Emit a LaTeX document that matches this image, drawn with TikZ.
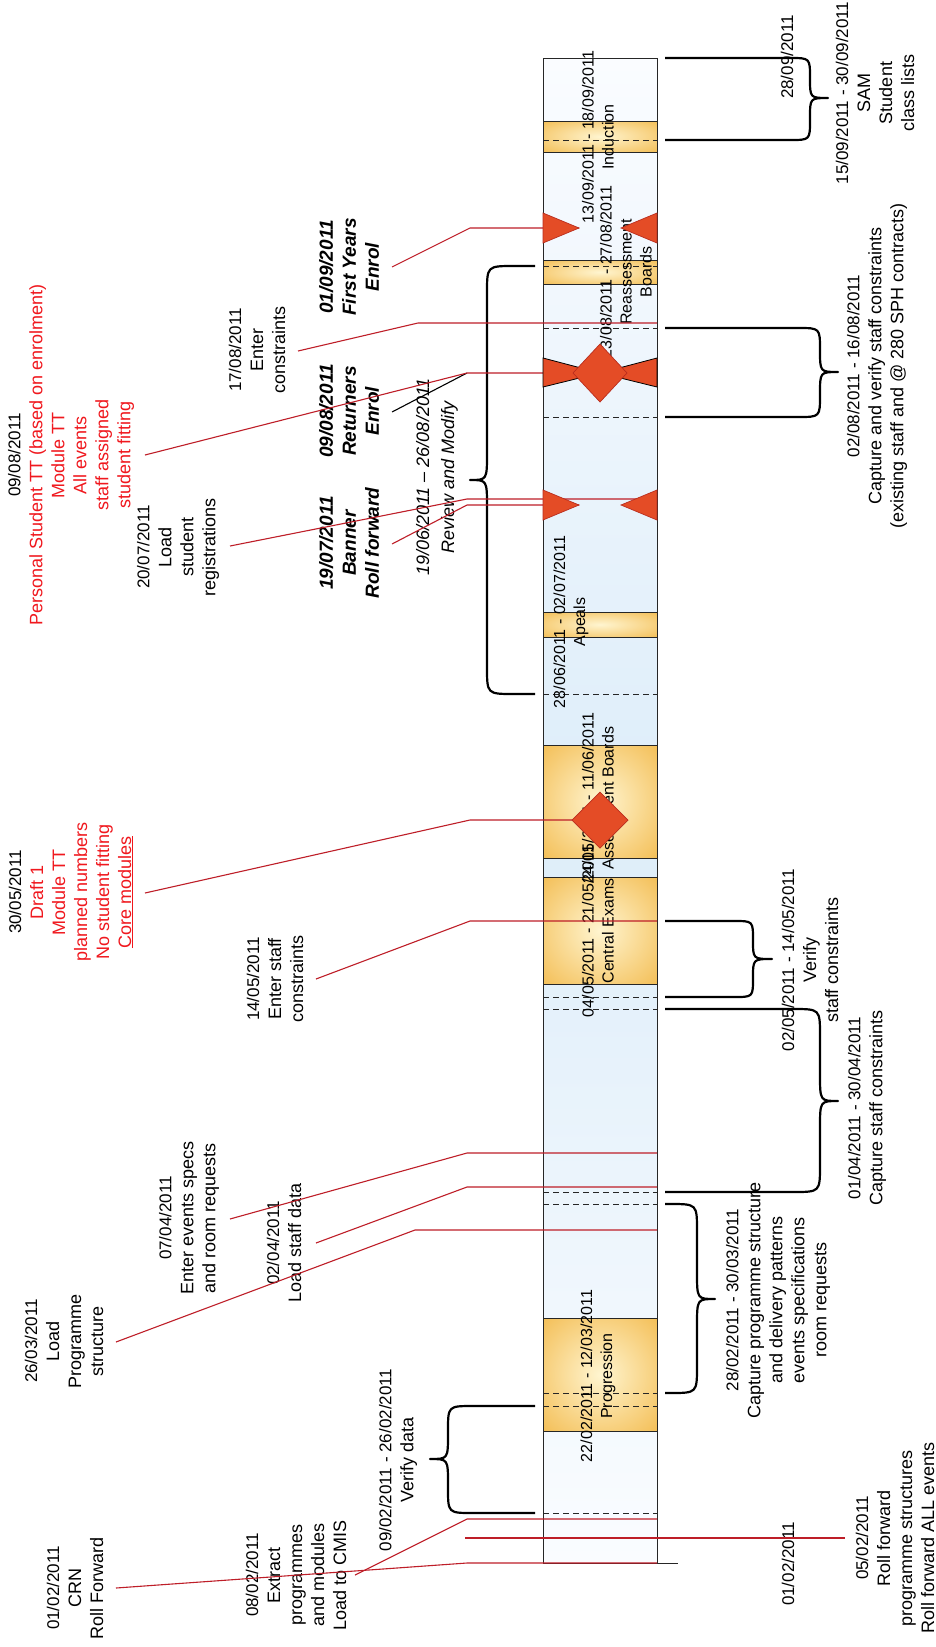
\documentclass[tikz,border=0pt]{standalone}
\usepackage{fontspec}
\setmainfont{Liberation Sans}
\definecolor{lead}{RGB}{190,30,40}
\definecolor{tred}{RGB}{240,24,30}
\definecolor{markfill}{RGB}{228,76,38}
\definecolor{markedge}{RGB}{185,45,30}
\definecolor{orangeout}{RGB}{242,184,72}
\definecolor{orangein}{RGB}{255,245,208}
\definecolor{barblue}{RGB}{221,237,249}
\definecolor{barlight}{RGB}{250,252,255}
\pgfdeclareradialshading{orangeglow}{\pgfpoint{0bp}{0bp}}{color(0bp)=(orangein); color(40bp)=(orangeout); color(60bp)=(orangeout)}
\newcommand{\dt}[1]{{\fontsize{17}{22}\selectfont #1}}
% #1 arm x, #2 spine x, #3 tip x, #4 top y, #5 bottom y, #6 mid y, #7 radius, #8 direction
\newcommand{\mybrace}[8]{%
  \draw[bracestyle] (#1,#4) -- ({#2-#8*#7},#4) .. controls (#2,#4) .. (#2,{#4+#7})
    -- (#2,{#6-#7}) .. controls (#2,#6) .. (#3,#6) .. controls (#2,#6) .. (#2,{#6+#7})
    -- (#2,{#5-#7}) .. controls (#2,#5) .. ({#2-#8*#7},#5) -- (#1,#5);}
\tikzset{
 lbl/.style={rotate=90,align=center,inner sep=0pt,font=\fontsize{18}{22}\selectfont},
 barlbl/.style={rotate=90,align=center,inner sep=0pt,font=\fontsize{16}{20}\selectfont},
 bilbl/.style={rotate=90,align=center,inner sep=0pt,font=\fontsize{19}{23}\selectfont\bfseries\itshape},
 ilbl/.style={rotate=90,align=center,inner sep=0pt,font=\fontsize{18}{25}\selectfont\itshape},
 leader/.style={draw=lead,line width=1.1pt},
 blackleader/.style={draw=black,line width=1.1pt},
 bracestyle/.style={draw=black,line width=2.2pt,line join=round},
 datedash/.style={draw=black!85,line width=1pt,dash pattern=on 6pt off 4pt},
 orangebox/.style={shading=orangeglow,draw=black!85,line width=1pt},
 markstyle/.style={fill=markfill,draw=markedge,line width=0.7pt},
 markblack/.style={fill=markfill,draw=black,line width=0.8pt},
}
\begin{document}
\begin{tikzpicture}[x=1pt,y=-1pt]
\useasboundingbox (0,0) rectangle (936,1647);
\fill[white] (0,0) rectangle (936,1647);

% ---------- timeline bar ----------
\shade[top color=barlight,bottom color=barlight,middle color=barblue] (543,58) rectangle (657,1563);
\shadedraw[orangebox] (543,121) rectangle (657,152);
\shadedraw[orangebox] (543,260) rectangle (657,284);
\shadedraw[orangebox] (543,612) rectangle (657,637);
\shadedraw[orangebox] (543,745) rectangle (657,858);
\shadedraw[orangebox] (543,877) rectangle (657,984);
\shadedraw[orangebox] (543,1318) rectangle (657,1431);

\foreach \yy in {140,266,328,417,694,997,1009,1192,1204,1393,1406,1513}
  \draw[datedash] (543,\yy) -- (657,\yy);

\draw[black!85,line width=1pt] (543,58) rectangle (657,1563);
\draw[black!85,line width=1pt] (657,1563) -- (678,1563);

% ---------- labels inside the bar ----------
\node[barlbl] (induct) at (598,137) {13/09/2011 - 18/09/2011\\Induction};
\node[barlbl] (reass) at (626,272) {23/08/2011 - 27/08/2011\\Reassessment\\Boards};
\node[barlbl] (apeals) at (571,622) {28/06/2011 - 02/07/2011\\Apeals};
\node[barlbl] (assess) at (598,798) {24/05/2011 - 11/06/2011\\Assessment Boards};
\node[barlbl] (exams) at (598,931) {04/05/2011 - 21/05/2011\\Central Exams};
\node[barlbl] (prog) at (598,1376) {22/02/2011 - 12/03/2011\\Progression};

% ---------- labels left ----------
\node[lbl] (crn) at (75,1588) {\dt{01/02/2011}\\CRN\\Roll Forward};
\node[lbl] (extract) at (296,1575) {\dt{08/02/2011}\\Extract\\programmes\\and modules\\Load to CMIS};
\node[lbl] (verifydata) at (398,1460) {\dt{09/02/2011 - 26/02/2011}\\Verify data};
\node[lbl] (loadprog) at (64,1341) {\dt{26/03/2011}\\Load\\Programme\\structure};
\node[lbl] (events) at (189,1218) {\dt{07/04/2011}\\Enter events specs\\and room requests};
\node[lbl] (staffdata) at (284,1243) {\dt{02/04/2011}\\Load staff data};
\node[lbl] (staffcons) at (275,979) {\dt{14/05/2011}\\Enter staff\\constraints};
\node[lbl,text=tred] (draft) at (71,892) {{\color{black}\dt{30/05/2011}}\\Draft 1\\Module TT\\planned numbers\\No student fitting\\\underline{Core modules}};
\node[lbl] (regs) at (178,547) {\dt{20/07/2011}\\Load\\student\\registrations};
\node[lbl,text=tred] (pstt) at (71,455) {{\color{black}\dt{09/08/2011}}\\Personal Student TT (based on enrolment)\\Module TT\\All events\\staff assigned\\student fitting};
\node[lbl] (enter) at (257,350) {\dt{17/08/2011}\\Enter\\constraints};
\node[bilbl] (first) at (349,267) {01/09/2011\\First Years\\Enrol};
\node[bilbl] (ret) at (349,411) {09/08/2011\\Returners\\Enrol};
\node[bilbl] (banner) at (349,543) {19/07/2011\\Banner\\Roll forward};
\node[ilbl] (review) at (437,477) {19/06/2011 -- 26/08/2011\\Review and Modify};

% ---------- labels right ----------
\node[lbl] (d2809) at (787,57) {\dt{28/09/2011}};
\node[lbl] (sam) at (875,93) {\dt{15/09/2011 - 30/09/2011}\\SAM\\Student\\class lists};
\node[lbl] (capver) at (877,366) {\dt{02/08/2011 - 16/08/2011}\\Capture and verify staff constraints\\(existing staff and @ 280 SPH contracts)};
\node[lbl] (verst) at (810,960) {\dt{02/05/2011 - 14/05/2011}\\Verify\\staff constraints};
\node[lbl] (capst) at (867,1108) {\dt{01/04/2011 - 30/04/2011}\\Capture staff constraints};
\node[lbl] (capprog) at (778,1300) {\dt{28/02/2011 - 30/03/2011}\\Capture programme structure\\and delivery patterns\\events specifications\\room requests};
\node[lbl] (d0102) at (788,1564) {\dt{01/02/2011}};
\node[lbl] (rollfwd) at (895,1538) {\dt{05/02/2011}\\Roll forward\\programme structures\\Roll forward ALL events};

% ---------- braces ----------
\mybrace{665}{810}{828}{58}{140}{98}{20}{1}
\mybrace{665}{820}{838}{328}{417}{372}{22}{1}
\mybrace{665}{753}{772}{921}{997}{959}{19}{1}
\mybrace{665}{820}{838}{1009}{1192}{1101}{27}{1}
\mybrace{665}{697}{715}{1204}{1393}{1299}{27}{1}
\mybrace{535}{487}{470}{266}{694}{480}{27}{-1}
\mybrace{535}{448}{430}{1406}{1513}{1459}{25}{-1}

% ---------- leader lines ----------
\coordinate (crnA) at (116,1588); \coordinate (crnB) at (467,1563); \coordinate (crnC) at (657,1563);
\coordinate (extA) at (355,1575); \coordinate (extB) at (467,1519); \coordinate (extC) at (657,1519);
\coordinate (rfA) at (465,1538); \coordinate (rfB) at (845,1538);
\coordinate (lpA) at (116,1342); \coordinate (lpB) at (415,1230); \coordinate (lpC) at (657,1230);
\coordinate (sdA) at (316,1243); \coordinate (sdB) at (467,1187); \coordinate (sdC) at (657,1187);
\coordinate (evA) at (230,1219); \coordinate (evB) at (467,1153); \coordinate (evC) at (657,1153);
\coordinate (scA) at (316,979); \coordinate (scB) at (470,921); \coordinate (scC) at (657,921);
\coordinate (drA) at (145,893); \coordinate (drB) at (470,820); \coordinate (drC) at (572,820);
\coordinate (rgA) at (230,546); \coordinate (rgB) at (467,499); \coordinate (rgC) at (657,499);
\coordinate (bnA) at (392,544); \coordinate (bnB) at (467,505); \coordinate (bnC) at (579,505);
\coordinate (psA) at (145,455); \coordinate (psB) at (467,373); \coordinate (psC) at (573,373);
\coordinate (rtA) at (392,412);
\coordinate (ecA) at (298,351); \coordinate (ecB) at (418,323); \coordinate (ecC) at (657,323);
\coordinate (fyA) at (392,267); \coordinate (fyB) at (470,228); \coordinate (fyC) at (579,228);

\draw[leader] (crnA) -- (crnB) -- (crnC);
\draw[leader] (extA) -- (extB) -- (extC);
\draw[leader] (rfA) -- (rfB);
\draw[leader] (lpA) -- (lpB) -- (lpC);
\draw[leader] (sdA) -- (sdB) -- (sdC);
\draw[leader] (evA) -- (evB) -- (evC);
\draw[leader] (scA) -- (scB) -- (scC);
\draw[leader] (drA) -- (drB) -- (drC);
\draw[leader] (rgA) -- (rgB) -- (rgC);
\draw[leader] (bnA) -- (bnB) -- (bnC);
\draw[blackleader] (rtA) -- (psB);
\draw[leader] (psA) -- (psB) -- (psC);
\draw[leader] (ecA) -- (ecB) -- (ecC);
\draw[leader] (fyA) -- (fyB) -- (fyC);

% ---------- milestone markers ----------
% First Years Enrol
\filldraw[markstyle] (543,213) -- (579,228) -- (543,243) -- cycle;
\filldraw[markstyle] (657,213) -- (621,228) -- (657,243) -- cycle;
% Returners Enrol
\filldraw[markblack] (543,358) -- (600,373) -- (543,387) -- cycle;
\filldraw[markblack] (657,358) -- (600,373) -- (657,387) -- cycle;
\filldraw[markstyle] (573,373) -- (600,344) -- (627,373) -- (600,402) -- cycle;
% Banner Roll forward
\filldraw[markstyle] (543,490) -- (579,505) -- (543,520) -- cycle;
\filldraw[markstyle] (657,490) -- (621,505) -- (657,520) -- cycle;
% Draft 1
\filldraw[markstyle] (572,820) -- (600,792) -- (628,820) -- (600,848) -- cycle;
\end{tikzpicture}
\end{document}
